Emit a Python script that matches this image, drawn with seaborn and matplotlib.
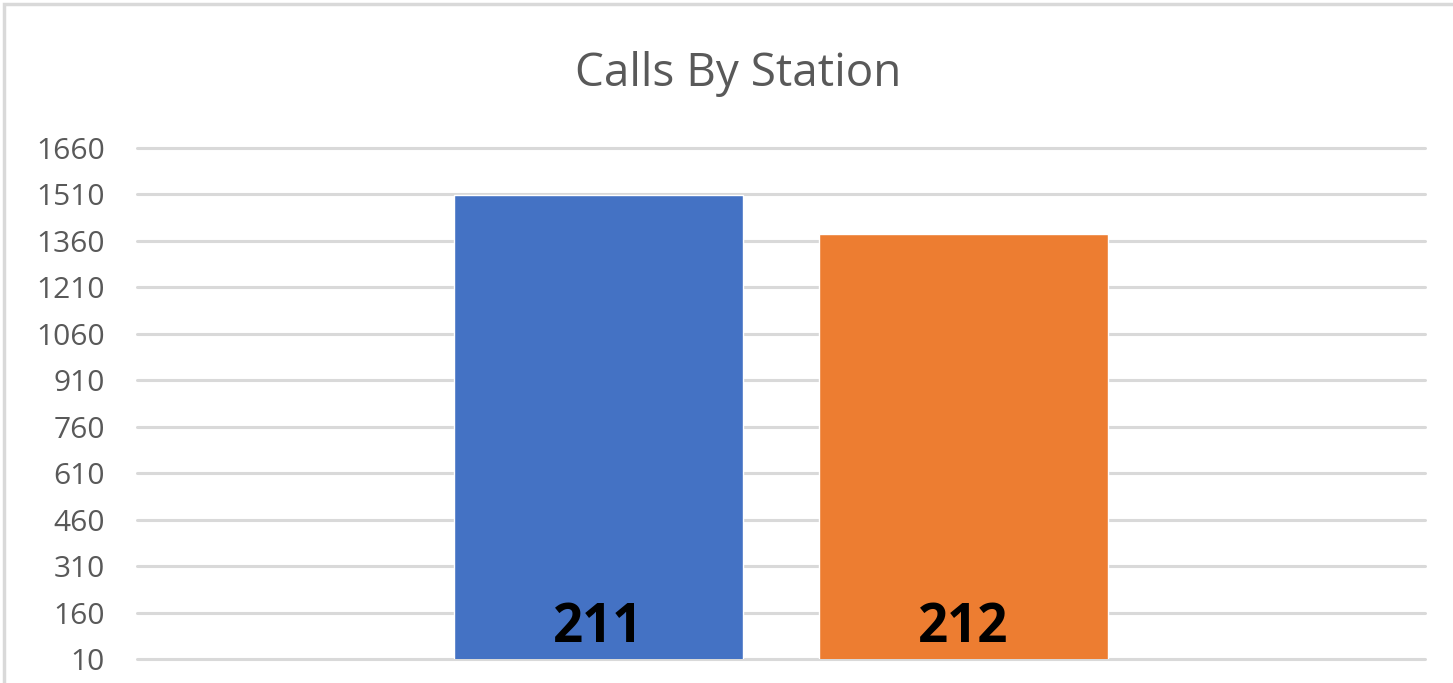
import numpy as np
import pandas as pd
import seaborn as sns
import matplotlib.pyplot as plt
from matplotlib.patches import Rectangle

# calls per station
stations = ["211", "212"]
calls = [1507, 1382]
colors = ["#4472C4", "#ED7D31"]

y_ticks = list(range(10, 1661, 150))

sns.set_style("white")
plt.rcParams['font.family'] = ['Open Sans', 'DejaVu Sans']

fig = plt.figure(figsize=(14.53, 6.83), dpi=100)
ax = fig.add_axes([137 / 1453, 24 / 683, 1288 / 1453, 511 / 683])

df = pd.DataFrame({"station": stations, "calls": calls})
sns.barplot(data=df, x="station", y="calls", hue="station", palette=colors,
            width=0.79, legend=False, ax=ax, zorder=3, saturation=1)

ax.set_xlim(-1.264, 2.264)
ax.set_ylim(y_ticks[0], y_ticks[-1])
ax.set_yticks(y_ticks)
ax.set_yticklabels([str(t) for t in y_ticks])
ax.set_xticks([])
ax.set_xlabel("")
ax.set_ylabel("")

ax.yaxis.grid(True, color="#d9d9d9", linewidth=2.2, zorder=0)
ax.set_axisbelow(True)
for gl in ax.get_ygridlines():
    gl.set_clip_on(False)
for s in ax.spines.values():
    s.set_visible(False)

ax.tick_params(axis="y", length=0, pad=23, labelsize=21.5, labelcolor="#595959")

# station name inside the base of each bar
for bar, name in zip(ax.patches, stations):
    ax.annotate(name, (bar.get_x() + bar.get_width() / 2, y_ticks[0]),
                xytext=(0, 12), textcoords="offset points",
                ha="center", va="baseline", fontsize=38, fontweight="bold",
                color="black", zorder=5)

fig.text(738 / 1453, 1 - 86 / 683, "Calls By Station", ha="center", va="baseline",
         fontsize=33, color="#595959")

# outer chart border
fig.patches.append(Rectangle((4 / 1453, -0.05), 1.1, 1 - 4 / 683 + 0.05,
                             transform=fig.transFigure, fill=False,
                             edgecolor="#d9d9d9", linewidth=2.5))

fig.savefig("out.png", dpi=100)
